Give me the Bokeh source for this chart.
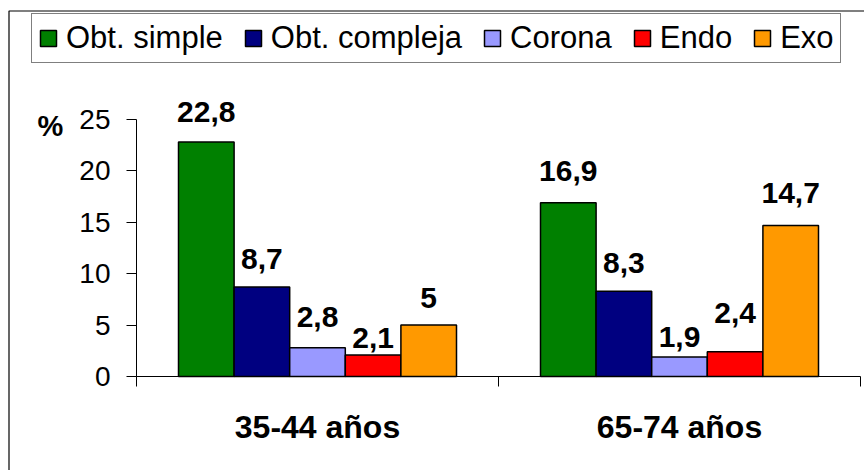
from bokeh.plotting import figure
from bokeh.models import (ColumnDataSource, Range1d, FixedTicker, Legend,
                          LegendItem, LabelSet, Label, BoxAnnotation)
from bokeh.transform import dodge
from bokeh.core.properties import value
from bokeh.embed import file_html
from bokeh.resources import INLINE

# ---- data ----
groups = ["35-44 años", "65-74 años"]
series = ["Obt. simple", "Obt. compleja", "Corona", "Endo", "Exo"]
obt_simple = [22.8, 16.9]
obt_compleja = [8.7, 8.3]
corona = [2.8, 1.9]
endo = [2.1, 2.4]
exo = [5, 14.7]
y_ticks = [0, 5, 10, 15, 20, 25]
y_max = 25
y_unit_label = "%"

# ---- styles / layout (pixels) ----
colors = ["#008000", "#000080", "#9999FF", "#FF0000", "#FF9900"]
label_gap = [[20, 22], [18, 18], [21, 10], [7, 29], [17, 22]]  # px above bar
FONT = "Liberation Sans"
W, H = 864, 470
AX_LEFT_PX, AX_RIGHT_PX = 136, 860     # x-axis extent on canvas
AX_ZERO_PX, AX_TOP_PX = 376, 119       # y=0 and y=y_max on canvas
BORDER_LEFT_PX, BORDER_TOP_PX = 8.5, 10.5
BAR_PX = 55.6

values = [obt_simple, obt_compleja, corona, endo, exo]
n = len(groups)
xc = [g + 0.5 for g in range(n)]
px_x = (AX_RIGHT_PX - AX_LEFT_PX) / n
px_y = (AX_ZERO_PX - AX_TOP_PX) / y_max
x_start = -AX_LEFT_PX / px_x
x_end = n + (W - AX_RIGHT_PX) / px_x
y_start = -(H - AX_ZERO_PX) / px_y
y_end = y_max + AX_TOP_PX / px_y
bar_w = BAR_PX / px_x


def fmt(v):
    return f"{v:g}".replace(".", ",")


p = figure(width=W, height=H,
           x_range=Range1d(x_start, x_end), y_range=Range1d(y_start, y_end),
           output_backend="svg", toolbar_location=None,
           min_border=0)
p.outline_line_color = None
p.xgrid.visible = False
p.ygrid.visible = False
p.background_fill_color = "white"
p.border_fill_color = "white"

items = []
for i, (name, vals) in enumerate(zip(series, values)):
    off = (i - (len(series) - 1) / 2) * bar_w
    src = ColumnDataSource(dict(x=xc, top=vals, label=[fmt(v) for v in vals],
                                gap=label_gap[i]))
    r = p.vbar(x=dodge("x", off), top="top", width=bar_w, source=src,
               fill_color=colors[i], line_color="black", line_width=1.5)
    items.append(LegendItem(label=name, renderers=[r]))
    labels = LabelSet(x=dodge("x", off), y="top", text="label", source=src,
                      y_offset="gap", text_align="center",
                      text_baseline="alphabetic", text_font=value(FONT),
                      text_font_size="30px", text_font_style="bold",
                      text_color="black")
    p.add_layout(labels)

# x axis
xa = p.xaxis[0]
xa.fixed_location = 0
xa.bounds = (0, n)
xa.ticker = FixedTicker(ticks=xc, minor_ticks=list(range(n + 1)))
xa.major_label_overrides = {x: g for x, g in zip(xc, groups)}
xa.major_tick_line_color = None
xa.major_tick_out = 10
xa.major_tick_in = 0
xa.minor_tick_out = 10
xa.minor_tick_in = 0
xa.minor_tick_line_color = "black"
xa.axis_line_color = "black"
xa.major_label_text_font = FONT
xa.major_label_text_font_size = "32px"
xa.major_label_text_font_style = "bold"
xa.major_label_text_color = "black"
xa.major_label_standoff = 22

# y axis
ya = p.yaxis[0]
ya.fixed_location = 0
ya.bounds = (0, y_max)
ya.ticker = FixedTicker(ticks=y_ticks, minor_ticks=[])
ya.major_tick_out = 10
ya.major_tick_in = 0
ya.major_tick_line_color = "black"
ya.axis_line_color = "black"
ya.major_label_text_font = FONT
ya.major_label_text_font_size = "28px"
ya.major_label_text_color = "black"
ya.major_label_standoff = 16

pct = Label(x=0, y=y_max, x_offset=-86, y_offset=-6, text=y_unit_label,
            text_align="center", text_baseline="middle",
            text_font=FONT, text_font_size="29px",
            text_font_style="bold", text_color="black")
p.add_layout(pct)

# outer chart-area border (left and top visible)
border = BoxAnnotation(left=x_start + BORDER_LEFT_PX / px_x,
                       top=y_end - BORDER_TOP_PX / px_y,
                       right=x_end + 1, bottom=y_start - 1,
                       fill_alpha=0, line_color="black", line_alpha=1,
                       line_width=1.2, level="underlay")
p.add_layout(border)

legend = Legend(items=items, orientation="horizontal", location=(31, 407),
                label_text_font=FONT, label_text_font_size="31px",
                label_text_color="black",
                glyph_width=20, glyph_height=20, label_standoff=8,
                spacing=20, padding=6, margin=0,
                border_line_color="black", border_line_width=1,
                background_fill_color="white", background_fill_alpha=1)
p.add_layout(legend, "center")

open("out.html", "w").write(file_html(p, INLINE))
